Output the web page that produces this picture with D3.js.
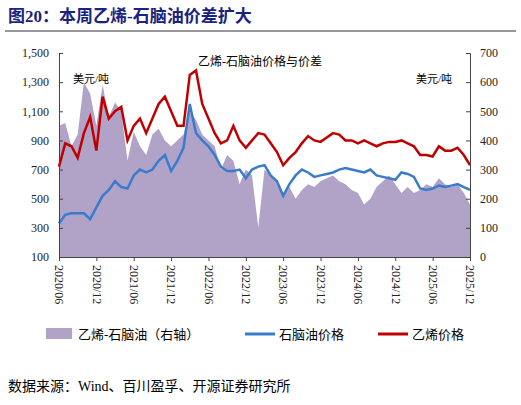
<!DOCTYPE html>
<html><head><meta charset="utf-8">
<script src="https://cdn.jsdelivr.net/npm/d3@7"></script>
<style>body{margin:0;background:#fff}text{font-family:"Liberation Serif","Noto Sans CJK SC",serif}</style>
</head><body><svg width="521" height="405"></svg>
<script>
// monthly, 2020/06 .. 2025/12
const naphtha = [330,390,400,400,400,360,440,520,560,620,580,570,660,700,680,700,760,800,690,760,850,1150,950,900,860,800,720,690,690,700,640,700,720,730,660,620,520,600,660,700,680,650,660,670,680,700,710,700,690,680,700,660,650,640,630,680,670,650,570,560,570,590,580,590,600,580,560];
const ethylene = [720,880,860,780,950,1060,830,1200,1050,1100,1130,900,1000,1050,950,1050,1150,1200,1100,1000,1000,1350,1380,1150,1050,950,880,900,1000,900,850,900,950,940,880,820,730,780,820,880,930,900,890,920,950,940,900,900,880,900,880,860,880,890,890,900,880,860,800,800,790,860,830,830,850,800,730];
const spread = [450,460,380,420,600,560,450,590,480,530,500,330,430,380,350,420,440,400,380,400,420,500,470,420,
  400,380,300,350,330,250,300,280,100,300,280,260,220,240,200,230,250,240,260,270,280,260,250,230,220,180,200,240,260,280,250,220,240,220,230,250,240,270,250,240,250,220,180];
const tickLabels = ["2020/06","2020/12","2021/06","2021/12","2022/06","2022/12","2023/06","2023/12","2024/06","2024/12","2025/06","2025/12"];
const leftTicks = [100,300,500,700,900,1100,1300,1500];
const rightTicks = [0,100,200,300,400,500,600,700];

const svg = d3.select("svg");
const x = d3.scaleLinear().domain([0, naphtha.length - 1]).range([59, 470]);
const yL = d3.scaleLinear().domain([100, 1500]).range([257, 53]);
const yR = d3.scaleLinear().domain([0, 700]).range([257, 53]);

svg.append("text").attr("x", 8).attr("y", 22).attr("fill", "#1a237e")
  .attr("font-size", 17).attr("font-weight", "bold").text("图20：本周乙烯-石脑油价差扩大");
svg.append("line").attr("x1", 5).attr("x2", 516).attr("y1", 31).attr("y2", 31).attr("stroke", "#333").attr("stroke-width", 1);

svg.append("path").datum(spread).attr("fill", "#b1a2c8")
  .attr("d", d3.area().x((d, i) => x(i)).y0(yR(0)).y1(d => yR(d)));
svg.append("path").datum(naphtha).attr("fill", "none").attr("stroke", "#3a7ccc").attr("stroke-width", 2.5)
  .attr("d", d3.line().x((d, i) => x(i)).y(d => yL(d)));
svg.append("path").datum(ethylene).attr("fill", "none").attr("stroke", "#c00000").attr("stroke-width", 2.5)
  .attr("d", d3.line().x((d, i) => x(i)).y(d => yL(d)));

const fmt = d3.format(",");
const gl = svg.append("g").attr("transform", "translate(59,0)")
  .call(d3.axisLeft(yL).tickValues(leftTicks).tickFormat(fmt).tickSize(-4).tickPadding(10));
const gr = svg.append("g").attr("transform", "translate(470,0)")
  .call(d3.axisRight(yR).tickValues(rightTicks).tickSize(-4).tickPadding(10));
const xt = d3.scaleLinear().domain([0, 11]).range([59, 470]);
const gx = svg.append("g").attr("transform", "translate(0,257)")
  .call(d3.axisBottom(xt).ticks(11).tickSize(4).tickFormat(i => tickLabels[i]));
gx.selectAll("text").attr("transform", "rotate(90)").attr("text-anchor", "start")
  .attr("x", 8).attr("y", 0).attr("dy", "0.35em");
[gl, gr, gx].forEach(g => {
  g.selectAll("text").attr("font-size", 12).attr("fill", "#222").attr("font-family", "Liberation Serif");
  g.selectAll("path,line").attr("stroke", "#444");
});

svg.append("text").attr("x", 260).attr("y", 66).attr("text-anchor", "middle").attr("font-size", 12).text("乙烯-石脑油价格与价差");
svg.append("text").attr("x", 73).attr("y", 83).attr("font-size", 11).text("美元/吨");
svg.append("text").attr("x", 416).attr("y", 83).attr("font-size", 11).text("美元/吨");

const legend = [["乙烯-石脑油（右轴）", "#b1a2c8", "rect", 46], ["石脑油价格", "#3a7ccc", "line", 245], ["乙烯价格", "#c00000", "line", 378]];
legend.forEach(([t, c, k, lx]) => {
  if (k === "rect") svg.append("rect").attr("x", lx).attr("y", 328).attr("width", 26).attr("height", 11).attr("fill", c);
  else svg.append("line").attr("x1", lx).attr("x2", lx + 30).attr("y1", 334).attr("y2", 334).attr("stroke", c).attr("stroke-width", 3);
  svg.append("text").attr("x", lx + (k === "rect" ? 32 : 34)).attr("y", 339).attr("font-size", 13).text(t);
});

svg.append("text").attr("x", 8).attr("y", 391).attr("font-size", 14).text("数据来源：Wind、百川盈孚、开源证券研究所");
</script></body></html>
